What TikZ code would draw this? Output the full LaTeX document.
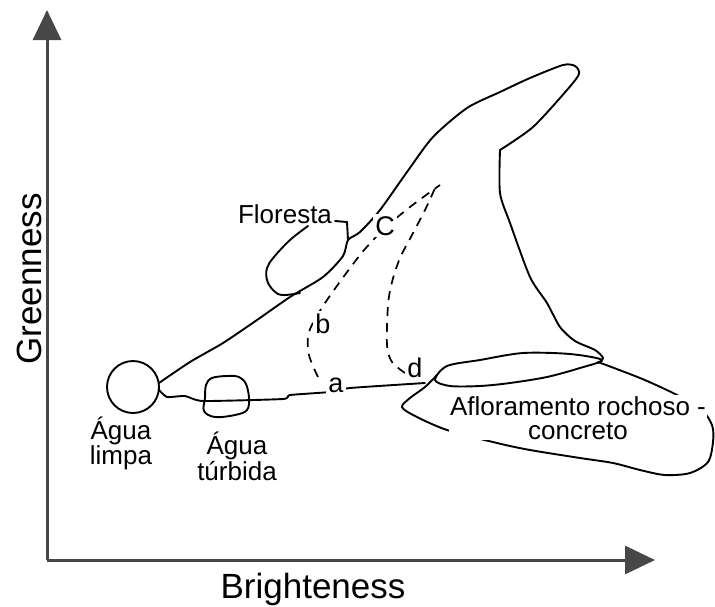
\documentclass[tikz,border=0pt]{standalone}
\usepackage{fontspec}
\setmainfont{Liberation Sans}
\usetikzlibrary{arrows.meta}
\tikzset{
  % axis arrows
  axisline/.style = {-{Triangle[length=30pt,width=28pt]}, line width=3pt, black!72},
  % axis titles
  axlbl/.style    = {font=\fontsize{35}{40}\selectfont, inner sep=0pt},
  % hand drawn region outlines
  outline/.style  = {draw=black, line width=1.9pt, line join=round, line cap=round},
  % dashed trajectories
  trace/.style    = {black, line width=1.7pt, dash pattern=on 9pt off 7pt},
  % region labels (white box hides the outline behind)
  lbl/.style      = {font=\fontsize{26}{24}\selectfont, align=center,
                     inner sep=1pt, fill=white},
  % point letters a..d
  ptlbl/.style    = {font=\fontsize{27}{27}\selectfont, inner sep=2pt, fill=white},
}
\begin{document}
\begin{tikzpicture}[x=1pt, y=-1pt]
  \useasboundingbox (0,0) rectangle (715,606);

  % --- axes ---
  \coordinate (origin) at (47,560);
  \coordinate (ytip) at (47,10);
  \coordinate (xtip) at (655,560);
  \draw[axisline] (origin) -- (ytip);
  \draw[axisline] (origin) -- (xtip);
  \node[axlbl, rotate=90, anchor=base] (ylab) at (41,279) {Greenness};
  \node[axlbl, anchor=base] (xlab) at (313,598) {Brighteness};

  % --- water regions ---
  \node[circle, draw, line width=1.9pt, minimum size=52pt, inner sep=0pt] (limpa) at (133,387) {};
  \draw[outline] plot[smooth cycle, tension=0.6] coordinates
    {(205,398) (206,385) (212,378) (227,376) (239,377) (246,384) (249,398)
     (247,410) (235,415) (215,417) (204,411)};

  % --- main hull: upper edge, tip, right edge ---
  \draw[outline] plot[smooth, tension=0.45] coordinates
    {(159,383) (190,362) (223,343) (257,320) (290,297) (323,277) (343,256)
     (348,240) (360,232) (380,210) (407,172) (433,137) (467,108) (500,92)
     (530,78) (563,65) (575,66) (579,74) (567,90) (533,127) (500,150)};
  \draw[outline] plot[smooth, tension=0.45] coordinates
    {(500,150) (500,193) (510,223) (530,277) (547,303) (560,327) (575,341)
     (595,350) (603,358) (598,363)};

  % --- lower edge ---
  \draw[outline] plot[smooth, tension=0.3] coordinates
    {(159,390) (167,397) (185,396) (203,401) (283,399) (290,395) (330,392)
     (350,388) (425,383)};

  % --- Floresta region + leader ---
  \draw[outline] plot[smooth, tension=0.6] coordinates
    {(308,226) (290,240) (274,257) (267,268) (267,280) (273,290) (282,295) (300,293)};
  \draw[outline] (335,221) -- (347,222) -- (348,240);

  % --- rock outcrop: upper lens and large blob ---
  \draw[outline] plot[smooth cycle, tension=0.5] coordinates
    {(435,380) (447,366) (480,360) (523,353) (570,354) (602,360) (580,368)
     (547,377) (510,383) (480,386) (450,386)};
  \draw[outline] plot[smooth, tension=0.5] coordinates
    {(598,362) (640,378) (673,393) (700,408) (712,425) (713,442) (708,462)
     (690,473) (665,475) (640,470) (613,463) (580,458) (530,450) (497,443)
     (447,430) (415,416) (402,407) (410,398) (425,387) (437,375)};

  % --- dashed trajectories ---
  \draw[trace] plot[smooth, tension=0.5] coordinates
    {(318,377) (309,355) (309,332) (325,303) (360,255) (385,228) (410,207) (440,185)};
  \draw[trace] plot[smooth, tension=0.5] coordinates
    {(405,373) (392,362) (387,345) (388,305) (392,282) (400,258) (412,235)
     (425,210) (436,186)};

  % --- labels ---
  \node[lbl, anchor=north] (limpalbl) at (121,416) {Água\\limpa};
  \node[lbl, anchor=north] (turbidalbl) at (237,431) {Água\\túrbida};
  \node[lbl, anchor=base] (florestalbl) at (285,223) {Floresta};
  \node[lbl, anchor=north] (rochalbl) at (578,395) {Afloramento rochoso -\\concreto};

  \node[ptlbl, anchor=base] (pa) at (336,392) {a};
  \node[ptlbl, anchor=base] (pb) at (323,333) {b};
  \node[ptlbl, anchor=base] (pc) at (385,235) {C};
  \node[ptlbl, anchor=base] (pd) at (415,377) {d};
\end{tikzpicture}
\end{document}
